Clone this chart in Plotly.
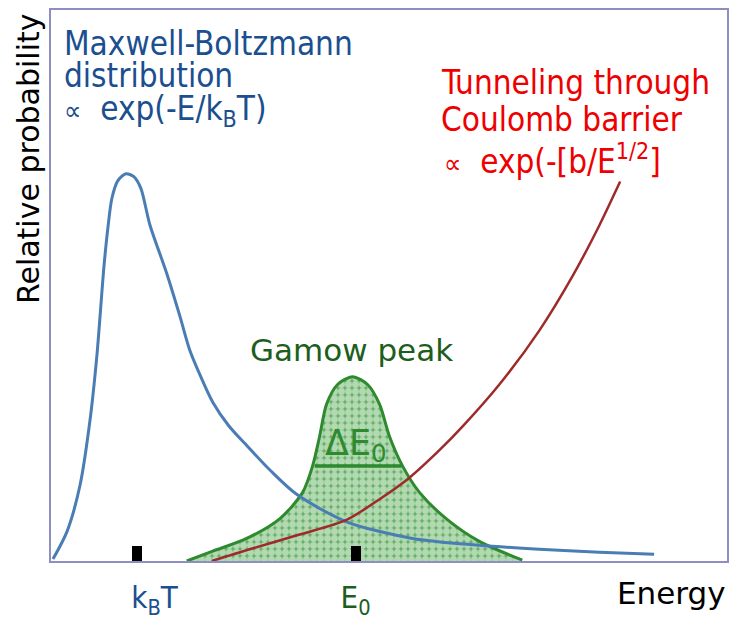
import plotly.graph_objects as go

# values (energy / relative probability, arbitrary units)
mb_energy = [2, 16, 29, 39, 46, 53, 57, 61, 67, 75, 83, 90, 99, 116, 129, 139, 150, 162, 178, 194, 220, 246, 296, 362, 429, 489, 549, 604]
mb_prob = [2, 30, 77, 143, 210, 300, 340, 370, 388, 395, 392, 380, 343, 293, 250, 215, 188, 162, 138, 120, 92, 68, 40, 23, 16, 12, 9, 7]

gamow_energy = [136, 162, 196, 229, 252, 262, 269, 276, 287, 302, 317, 329, 339, 352, 369, 396, 429, 472]
gamow_prob = [0, 10, 23, 43, 70, 97, 127, 160, 180, 188, 180, 160, 127, 97, 70, 43, 20, 1]

tunnel_energy = [161, 199, 249, 296, 329, 359, 389, 412, 449, 489, 522, 549, 570]
tunnel_prob = [0, 12, 27, 42, 63, 85, 113, 137, 180, 235, 290, 342, 387]

width_energy = [264, 351]
width_prob = [97, 97]

tick_vals = [86, 305]
tick_text = ['<span style="color:#1b4f8f">&nbsp;&nbsp;&nbsp;&nbsp;k<sub>B</sub>T</span>',
             '<span style="color:#1d5e1d">E<sub>0</sub></span>']

blue = "#4a7db3"
red = "#9e2a2a"
green = "#2f8a2f"

fig = go.Figure()
fig.add_trace(go.Scatter(
    x=gamow_energy, y=gamow_prob, mode="lines", fill="tozeroy",
    line=dict(color=green, width=3, shape="spline", smoothing=0.8),
    fillpattern=dict(shape=".", bgcolor="#66b266", fgcolor="white", size=7, solidity=0.75),
))
fig.add_trace(go.Scatter(x=width_energy, y=width_prob, mode="lines",
                         line=dict(color=green, width=3.5)))
fig.add_trace(go.Scatter(x=mb_energy, y=mb_prob, mode="lines",
                         line=dict(color=blue, width=3, shape="spline", smoothing=0.8)))
fig.add_trace(go.Scatter(x=tunnel_energy, y=tunnel_prob, mode="lines",
                         line=dict(color=red, width=2.5, shape="spline", smoothing=0.8)))

cond = "DejaVu Sans Condensed, DejaVu Sans, sans-serif"
dark_blue = "#1b4f8f"
bright_red = "#ee0000"
prop = '<span style="font-size:27px">∝</span>&nbsp; '

notes = [
    ("Maxwell-Boltzmann", 11, 528, dark_blue),
    ("distribution", 11, 495, dark_blue),
    (prop + "exp(-E/k<sub>B</sub>T)", 11, 460, dark_blue),
    ("Tunneling through", 389, 488, bright_red),
    ("Coulomb barrier", 389, 450, bright_red),
    (prop + "exp(-[b/E<sup>1/2</sup>]", 392, 410, bright_red),
]
for txt, x, y, c in notes:
    fig.add_annotation(x=x, y=y, text=txt, showarrow=False, xanchor="left", yanchor="middle",
                       font=dict(family=cond, size=33, color=c))

fig.add_annotation(x=301, y=215, text="Gamow peak", showarrow=False,
                   font=dict(family="DejaVu Sans", size=31, color="#1d5e1d"))
fig.add_annotation(x=305, y=118, text="ΔE<sub>0</sub>", showarrow=False,
                   font=dict(family="DejaVu Sans", size=35, color=green))
fig.add_annotation(x=-0.034, y=0.7295, xref="paper", yref="paper", text="Relative probability",
                   textangle=-90, showarrow=False, xanchor="center", yanchor="middle",
                   font=dict(family="DejaVu Sans", size=30, color="black"))
fig.add_annotation(x=1.0, y=-0.0587, xref="paper", yref="paper", text="Energy",
                   showarrow=False, xanchor="right", yanchor="middle", xshift=1,
                   font=dict(family="DejaVu Sans", size=31, color="black"))

fig.update_xaxes(range=[0, 677], showgrid=False, zeroline=False, showline=True, mirror=True,
                 linecolor="#8e8ec2", linewidth=2, tickvals=tick_vals, ticktext=tick_text,
                 ticks="inside", ticklen=15, tickwidth=10, tickcolor="black",
                 ticklabelstandoff=8, tickfont=dict(family=cond, size=31))
fig.update_yaxes(range=[0, 562], showgrid=False, zeroline=False, showline=True, mirror=True,
                 linecolor="#8e8ec2", linewidth=2, showticklabels=False, ticks="")
# the page body adds an 8px margin, so the figure is sized to fit the window without scrolling
fig.update_layout(width=721, height=612, margin=dict(l=43, r=1, t=0, b=50),
                  showlegend=False, plot_bgcolor="white", paper_bgcolor="white")
fig.write_html("out.html")
